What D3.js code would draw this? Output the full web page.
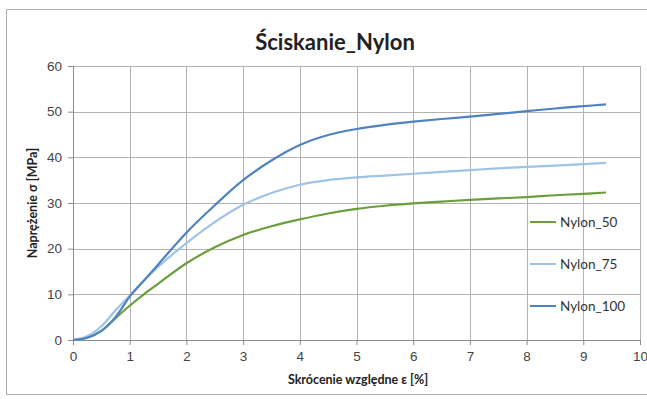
<!DOCTYPE html>
<html>
<head>
<meta charset="utf-8">
<script src="https://cdn.jsdelivr.net/npm/d3@7"></script>
<style>
  body { margin: 0; background: #fff; }
  svg { font-family: Lato, "Open Sans", sans-serif; }
  .grid line { stroke: #b3b3b3; stroke-width: 1; }
  .axis text { fill: #444; font-size: 13.5px; }
  .axis path, .axis line { stroke: #8c8c8c; }
</style>
</head>
<body>
<svg id="chart" width="647" height="399"></svg>
<script>
// odkształcenie [%]
const strain = [0, 0.25, 0.5, 0.75, 1, 1.25, 1.5, 2, 2.5, 3, 3.5, 4, 4.5, 5, 5.5, 6, 6.5, 7, 7.5, 8, 8.5, 9, 9.4]
const nylon50 = [0, 0.5, 2, 4.8, 7.5, 10, 12.3, 16.8, 20.3, 23, 24.9, 26.4, 27.7, 28.7, 29.4, 29.9, 30.3, 30.7, 31, 31.3, 31.7, 32, 32.3]
const nylon75 = [0, 0.8, 3, 6.5, 9.7, 13, 16, 21.2, 25.8, 29.6, 32.2, 34, 35, 35.6, 36, 36.4, 36.8, 37.2, 37.6, 37.9, 38.2, 38.5, 38.8]
const nylon100 = [0, 0.5, 2, 5, 9.5, 13, 16.5, 23.5, 29.5, 35, 39.3, 42.7, 44.9, 46.2, 47.1, 47.8, 48.4, 48.9, 49.5, 50.1, 50.7, 51.2, 51.6]
const seriesNames = ['Nylon_50', 'Nylon_75', 'Nylon_100']
const xTicks = [0, 1, 2, 3, 4, 5, 6, 7, 8, 9, 10]
const yTicks = [0, 10, 20, 30, 40, 50, 60]

const colors = ['#6a9f3b', '#9fc3e7', '#4f83bf']
const series = [nylon50, nylon75, nylon100].map((vals, i) => ({
    name: seriesNames[i],
    points: strain.map((s, j) => [s, vals[j]])
}))

const margin = { top: 66, right: 4, bottom: 59, left: 73 }
const W = 647, H = 399
const width = W - margin.left - margin.right
const height = H - margin.top - margin.bottom

const svg = d3.select('#chart')

// ramka wykresu
svg.append('rect')
    .attr('x', 6.5).attr('y', 9.5)
    .attr('width', W).attr('height', H - 14)
    .attr('fill', 'none').attr('stroke', '#b0b0b0')

svg.append('text')
    .attr('x', 335).attr('y', 50)
    .attr('text-anchor', 'middle')
    .style('font-size', '22px').style('font-weight', 'bold').style('fill', '#222')
    .text('Ściskanie_Nylon')

const g = svg.append('g').attr('transform', `translate(${margin.left},${margin.top})`)

const x = d3.scaleLinear().domain([0, 10]).range([0, width - 3])
const y = d3.scaleLinear().domain([0, 60]).range([height, 0])

g.append('g').attr('class', 'grid')
    .selectAll('line').data(xTicks.slice(1)).enter().append('line')
    .attr('x1', d => Math.round(x(d)) + 0.5).attr('x2', d => Math.round(x(d)) + 0.5)
    .attr('y1', 0).attr('y2', height)

g.append('g').attr('class', 'grid')
    .selectAll('line').data(yTicks.slice(1)).enter().append('line')
    .attr('x1', 0).attr('x2', x(10))
    .attr('y1', d => Math.round(y(d)) + 0.5).attr('y2', d => Math.round(y(d)) + 0.5)

g.append('g').attr('class', 'axis')
    .attr('transform', `translate(0,${height})`)
    .call(d3.axisBottom(x).tickValues(xTicks).tickSize(5).tickPadding(6))

g.append('g').attr('class', 'axis')
    .call(d3.axisLeft(y).tickValues(yTicks).tickSize(5).tickPadding(6))

g.selectAll('.axis .domain').remove()
g.append('line').attr('x1', 0).attr('x2', x(10)).attr('y1', height + 0.5).attr('y2', height + 0.5).attr('stroke', '#8c8c8c')
g.append('line').attr('x1', 0.5).attr('x2', 0.5).attr('y1', 0).attr('y2', height).attr('stroke', '#8c8c8c')

const line = d3.line()
    .x(d => x(d[0]))
    .y(d => y(d[1]))
    .curve(d3.curveCatmullRom.alpha(0.5))

g.selectAll('.series').data(series).enter().append('path')
    .attr('class', 'series')
    .attr('fill', 'none')
    .attr('stroke', (d, i) => colors[i])
    .attr('stroke-width', 2.2)
    .attr('d', d => line(d.points))

// legenda
const legend = svg.append('g').attr('transform', 'translate(530,222)')
seriesNames.forEach((n, i) => {
    const row = legend.append('g').attr('transform', `translate(0,${i * 42})`)
    row.append('line').attr('x1', 0).attr('x2', 26).attr('stroke', colors[i]).attr('stroke-width', 2)
    row.append('text').attr('x', 30).attr('y', 5)
        .style('font-size', '13.5px').style('fill', '#333').text(n)
})

svg.append('text')
    .attr('transform', `translate(37,${margin.top + height / 2}) rotate(-90)`)
    .attr('text-anchor', 'middle')
    .style('font-size', '12.5px').style('font-weight', 'bold').style('fill', '#222')
    .text('Naprężenie σ [MPa]')

svg.append('text')
    .attr('x', margin.left + width / 2).attr('y', 384)
    .attr('text-anchor', 'middle')
    .style('font-size', '12.5px').style('font-weight', 'bold').style('fill', '#222')
    .text('Skrócenie względne ε [%]')
</script>
</body>
</html>
